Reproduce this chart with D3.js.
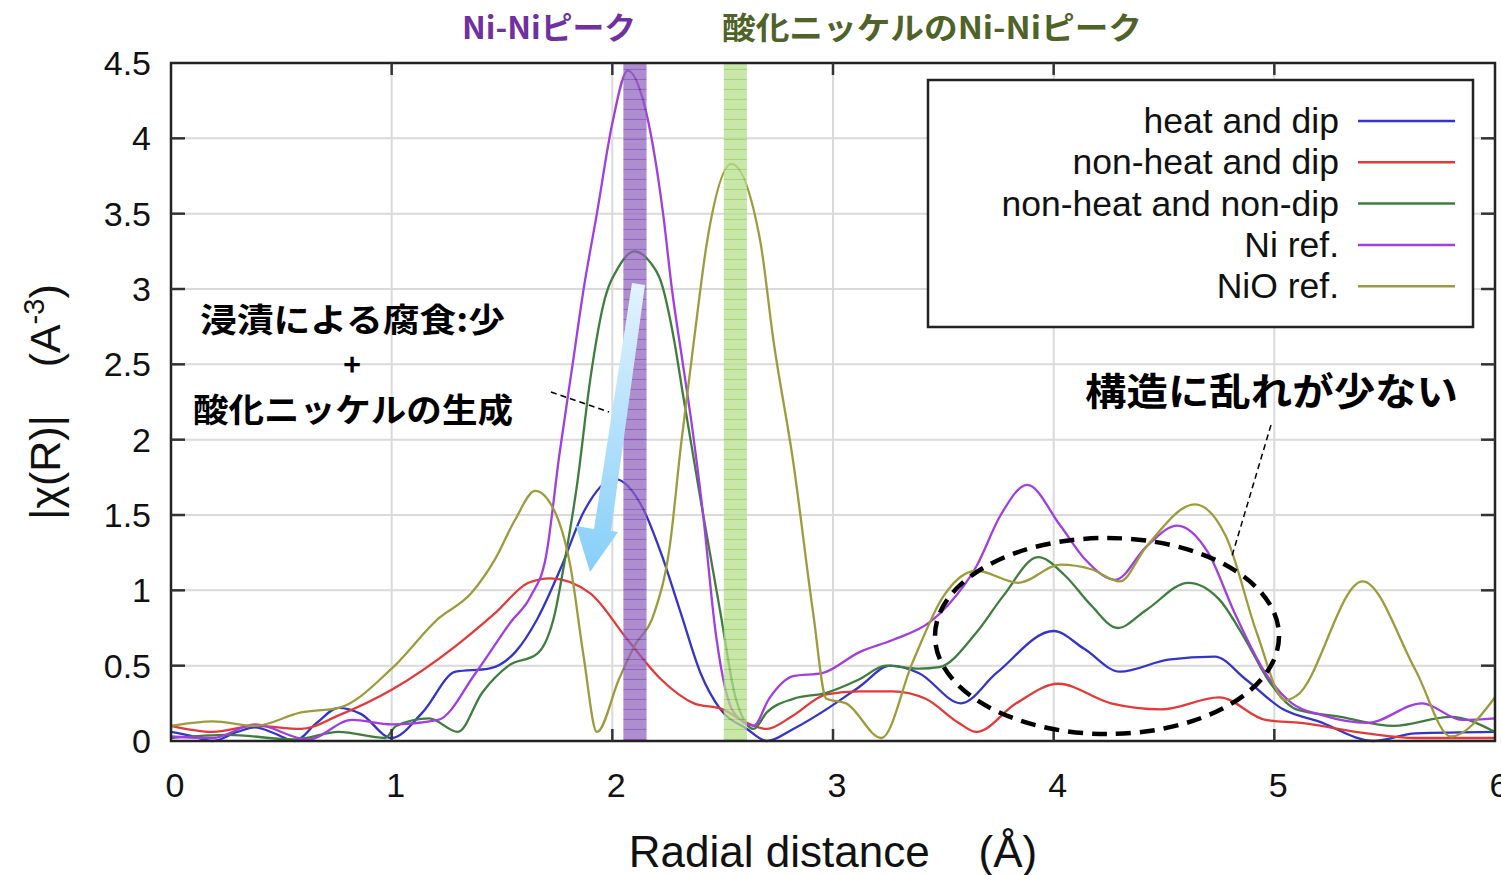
<!DOCTYPE html>
<html>
<head>
<meta charset="utf-8">
<script src="https://cdn.jsdelivr.net/npm/d3@7"></script>
<style>
  body { margin: 0; background: #fff; }
  svg { display: block; }
  text { white-space: pre; }
</style>
</head>
<body>
<div id="chart"></div>
<script>
// values, as [R, |chi(R)|]
const heatDip = [
    [0, 0.06], [0.1, 0.03], [0.19, 0.0], [0.3, 0.06], [0.38, 0.09], [0.47, 0.05], [0.56, 0.0],
    [0.66, 0.12], [0.76, 0.22], [0.86, 0.18], [1.0, 0.02], [1.14, 0.19], [1.29, 0.46], [1.44, 0.48],
    [1.56, 0.59], [1.66, 0.81], [1.77, 1.16], [1.87, 1.52], [2.01, 1.74], [2.14, 1.54], [2.22, 1.25],
    [2.31, 0.85], [2.40, 0.45], [2.49, 0.21], [2.61, 0.08], [2.70, 0.0], [2.82, 0.08], [2.97, 0.21],
    [3.12, 0.36], [3.26, 0.50], [3.39, 0.45], [3.58, 0.25], [3.74, 0.45], [4.0, 0.73], [4.14, 0.61],
    [4.30, 0.46], [4.52, 0.54], [4.73, 0.56], [4.87, 0.41], [5.04, 0.21], [5.2, 0.13], [5.45, 0.0],
    [5.64, 0.05], [6.0, 0.06]
];
const nonHeatDip = [
    [0, 0.10], [0.19, 0.06], [0.38, 0.10], [0.59, 0.08], [0.76, 0.17], [1.0, 0.34], [1.29, 0.63],
    [1.47, 0.85], [1.62, 1.05], [1.72, 1.08], [1.90, 0.98], [2.07, 0.67], [2.22, 0.41], [2.37, 0.25],
    [2.50, 0.21], [2.61, 0.12], [2.70, 0.08], [2.82, 0.17], [2.97, 0.31], [3.12, 0.33], [3.27, 0.33],
    [3.42, 0.28], [3.57, 0.12], [3.65, 0.06], [3.83, 0.25], [4.02, 0.38], [4.26, 0.25], [4.49, 0.21],
    [4.75, 0.29], [4.96, 0.14], [5.12, 0.12], [5.42, 0.05], [5.64, 0.02], [6.0, 0.02]
];
const nonHeatNonDip = [
    [0, 0.02], [0.26, 0.04], [0.56, 0.01], [0.76, 0.06], [0.97, 0.02], [1.02, 0.10], [1.17, 0.15],
    [1.30, 0.06], [1.41, 0.32], [1.53, 0.50], [1.66, 0.58], [1.74, 0.85], [1.78, 1.16], [1.84, 1.70],
    [1.90, 2.40], [1.96, 2.90], [2.03, 3.15], [2.10, 3.25], [2.17, 3.18], [2.22, 3.05], [2.28, 2.66],
    [2.32, 2.30], [2.40, 1.60], [2.49, 0.85], [2.56, 0.28], [2.64, 0.08], [2.70, 0.19], [2.82, 0.28],
    [2.97, 0.32], [3.12, 0.41], [3.24, 0.50], [3.39, 0.48], [3.48, 0.49], [3.65, 0.72], [3.77, 0.96],
    [3.93, 1.22], [4.05, 1.10], [4.17, 0.90], [4.29, 0.75], [4.42, 0.87], [4.61, 1.05], [4.75, 0.94],
    [4.87, 0.67], [4.97, 0.41], [5.10, 0.21], [5.3, 0.16], [5.54, 0.10], [5.80, 0.16], [6.0, 0.06]
];
const niRef = [
    [0, 0.03], [0.19, 0.02], [0.38, 0.11], [0.62, 0.01], [0.82, 0.14], [1.0, 0.11], [1.21, 0.14],
    [1.38, 0.45], [1.54, 0.79], [1.63, 0.96], [1.70, 1.23], [1.76, 1.9], [1.82, 2.5], [1.87, 3.0],
    [1.93, 3.5], [2.0, 4.1], [2.07, 4.45], [2.14, 4.25], [2.23, 3.5], [2.27, 3.0], [2.32, 2.5],
    [2.36, 2.1], [2.41, 1.52], [2.47, 0.70], [2.55, 0.19], [2.64, 0.10], [2.71, 0.28], [2.82, 0.43],
    [2.95, 0.45], [3.12, 0.59], [3.27, 0.67], [3.44, 0.79], [3.52, 0.9], [3.65, 1.16], [3.76, 1.5],
    [3.88, 1.70], [4.03, 1.43], [4.14, 1.21], [4.28, 1.07], [4.42, 1.29], [4.56, 1.43], [4.70, 1.25],
    [4.82, 0.85], [4.96, 0.45], [5.08, 0.25], [5.22, 0.17], [5.42, 0.12], [5.67, 0.25], [5.85, 0.14],
    [6.0, 0.15]
];
const nioRef = [
    [0, 0.10], [0.19, 0.13], [0.38, 0.10], [0.59, 0.19], [0.76, 0.22], [1.0, 0.48], [1.21, 0.81],
    [1.36, 0.98], [1.47, 1.21], [1.56, 1.47], [1.65, 1.66], [1.74, 1.52], [1.81, 1.16], [1.87, 0.56],
    [1.93, 0.06], [2.03, 0.41], [2.10, 0.63], [2.19, 0.85], [2.26, 1.29], [2.31, 1.95], [2.37, 2.66],
    [2.43, 3.32], [2.54, 3.83], [2.67, 3.32], [2.73, 2.66], [2.82, 1.85], [2.91, 0.85], [2.97, 0.28],
    [3.06, 0.25], [3.22, 0.02], [3.36, 0.52], [3.50, 0.96], [3.65, 1.13], [3.84, 1.05], [4.03, 1.17],
    [4.17, 1.14], [4.30, 1.06], [4.42, 1.29], [4.64, 1.57], [4.78, 1.36], [4.92, 0.72], [5.05, 0.27],
    [5.10, 0.30], [5.40, 1.06], [5.64, 0.47], [5.80, 0.03], [6.0, 0.29]
];

const seriesNames = ['heat and dip', 'non-heat and dip', 'non-heat and non-dip', 'Ni ref.', 'NiO ref.'];
const seriesColors = ['#3434c8', '#e23a3a', '#3f7d3f', '#a03ee0', '#9c9c3c'];
const seriesData = [heatDip, nonHeatDip, nonHeatNonDip, niRef, nioRef];

const xTicks = [0, 1, 2, 3, 4, 5, 6];
const yTicks = [0, 0.5, 1, 1.5, 2, 2.5, 3, 3.5, 4, 4.5];
// highlighted R ranges
const niBand = [2.05, 2.155];
const nioBand = [2.505, 2.61];

const svg = d3.select('#chart')
    .append('svg')
    .attr('width', 1501)
    .attr('height', 875);

const x = d3.scaleLinear().domain([0, 6]).range([171, 1495]);
const y = d3.scaleLinear().domain([0, 4.5]).range([741, 63]);

const sans = 'Liberation Sans, Arial, sans-serif';
const jp = 'Noto Sans CJK JP, sans-serif';

// pattern fills for the two bands
const defs = svg.append('defs');
function stripePattern(id, base, line) {
    const p = defs.append('pattern')
        .attr('id', id)
        .attr('patternUnits', 'userSpaceOnUse')
        .attr('width', 8).attr('height', 10);
    p.append('rect').attr('width', 8).attr('height', 10).attr('fill', base);
    p.append('line').attr('x1', 0).attr('x2', 8).attr('y1', 9.5).attr('y2', 9.5)
        .attr('stroke', line).attr('stroke-width', 1.2);
}
stripePattern('niStripe', '#8f62bb', '#6a2aa8');
stripePattern('nioStripe', '#b8df8e', '#86c94e');

const grad = defs.append('linearGradient')
    .attr('id', 'arrowGrad')
    .attr('x1', 0).attr('y1', 0).attr('x2', 0).attr('y2', 1);
grad.append('stop').attr('offset', '0%').attr('stop-color', '#e3f2ff');
grad.append('stop').attr('offset', '100%').attr('stop-color', '#86cff8');

// grid
svg.append('g').selectAll('line')
    .data(xTicks.slice(1, -1))
    .join('line')
    .attr('x1', d => x(d)).attr('x2', d => x(d))
    .attr('y1', y(4.5)).attr('y2', y(0))
    .attr('stroke', '#dadada').attr('stroke-width', 2);
svg.append('g').selectAll('line')
    .data(yTicks.slice(1, -1))
    .join('line')
    .attr('x1', x(0)).attr('x2', x(6))
    .attr('y1', d => y(d)).attr('y2', d => y(d))
    .attr('stroke', '#dadada').attr('stroke-width', 2);

// legend box (drawn over the grid)
const legend = svg.append('g');
legend.append('rect')
    .attr('x', 928).attr('y', 80).attr('width', 545).attr('height', 247)
    .attr('fill', '#fff').attr('stroke', '#222').attr('stroke-width', 2.5);
seriesNames.forEach((name, i) => {
    const cy = 121 + i * 41.3;
    legend.append('text')
        .attr('x', 1339).attr('y', cy + 12)
        .attr('text-anchor', 'end')
        .attr('font-family', sans)
        .attr('font-size', 35.5)
        .attr('fill', '#111')
        .text(name);
    legend.append('line')
        .attr('x1', 1358).attr('x2', 1455)
        .attr('y1', cy).attr('y2', cy)
        .attr('stroke', seriesColors[i]).attr('stroke-width', 2.5);
});

// curves
const lineGen = d3.line()
    .x(d => x(d[0]))
    .y(d => y(d[1]))
    .curve(d3.curveMonotoneX);

svg.append('g').selectAll('path')
    .data(seriesData)
    .join('path')
    .attr('d', d => lineGen(d))
    .attr('fill', 'none')
    .attr('stroke', (d, i) => seriesColors[i])
    .attr('stroke-width', 2.3);

// bands over the curves
svg.append('rect')
    .attr('x', x(niBand[0])).attr('width', x(niBand[1]) - x(niBand[0]))
    .attr('y', y(4.5)).attr('height', y(0) - y(4.5))
    .attr('fill', 'url(#niStripe)').attr('opacity', 0.72);
svg.append('rect')
    .attr('x', x(nioBand[0])).attr('width', x(nioBand[1]) - x(nioBand[0]))
    .attr('y', y(4.5)).attr('height', y(0) - y(4.5))
    .attr('fill', 'url(#nioStripe)').attr('opacity', 0.75);

// frame and ticks
svg.append('rect')
    .attr('x', x(0)).attr('y', y(4.5))
    .attr('width', x(6) - x(0)).attr('height', y(0) - y(4.5))
    .attr('fill', 'none').attr('stroke', '#222').attr('stroke-width', 2.5);
const tk = svg.append('g').attr('stroke', '#333').attr('stroke-width', 2.5);
xTicks.slice(1, -1).forEach(t => {
    tk.append('line').attr('x1', x(t)).attr('x2', x(t)).attr('y1', y(0)).attr('y2', y(0) - 12);
    tk.append('line').attr('x1', x(t)).attr('x2', x(t)).attr('y1', y(4.5)).attr('y2', y(4.5) + 12);
});
yTicks.slice(1, -1).forEach(t => {
    tk.append('line').attr('x1', x(0)).attr('x2', x(0) + 14).attr('y1', y(t)).attr('y2', y(t));
    tk.append('line').attr('x1', x(6)).attr('x2', x(6) - 14).attr('y1', y(t)).attr('y2', y(t));
});

// tick labels
svg.append('g').selectAll('text')
    .data(yTicks)
    .join('text')
    .attr('x', 151).attr('y', d => y(d) + 12)
    .attr('text-anchor', 'end')
    .attr('font-family', sans)
    .attr('font-size', 34)
    .attr('fill', '#111')
    .text(d => d3.format('~g')(d));
svg.append('g').selectAll('text')
    .data(xTicks)
    .join('text')
    .attr('x', d => x(d) + 4).attr('y', 797)
    .attr('text-anchor', 'middle')
    .attr('font-family', sans)
    .attr('font-size', 34)
    .attr('fill', '#111')
    .text(d => d);

// axis titles
svg.append('text')
    .attr('x', 833).attr('y', 867)
    .attr('text-anchor', 'middle')
    .attr('font-family', sans)
    .attr('font-size', 44)
    .attr('fill', '#111')
    .text('Radial distance    (Å)');
const yTitle = svg.append('text')
    .attr('transform', 'translate(60,402) rotate(-90)')
    .attr('text-anchor', 'middle')
    .attr('font-family', sans)
    .attr('font-size', 43)
    .attr('fill', '#111');
yTitle.append('tspan').text('|χ(R)|    (A');
yTitle.append('tspan').attr('dy', -16).attr('font-size', 29).text('-3');
yTitle.append('tspan').attr('dy', 16).text(')');

// peak labels on top
svg.append('text')
    .attr('x', 549).attr('y', 39)
    .attr('text-anchor', 'middle')
    .attr('font-family', jp).attr('font-weight', 700).attr('font-size', 31)
    .attr('fill', '#7030a0')
    .attr('textLength', 174).attr('lengthAdjust', 'spacingAndGlyphs')
    .text('Ni-Niピーク');
svg.append('text')
    .attr('x', 932).attr('y', 39)
    .attr('text-anchor', 'middle')
    .attr('font-family', jp).attr('font-weight', 700).attr('font-size', 31)
    .attr('fill', '#4f6228')
    .attr('textLength', 420).attr('lengthAdjust', 'spacingAndGlyphs')
    .text('酸化ニッケルのNi-Niピーク');

// left annotation
const note = svg.append('g')
    .attr('font-family', jp).attr('font-weight', 700).attr('fill', '#000');
note.append('text').attr('x', 200).attr('y', 332).attr('font-size', 33)
    .attr('textLength', 305).attr('lengthAdjust', 'spacingAndGlyphs')
    .text('浸漬による腐食:少');
note.append('text').attr('x', 352).attr('y', 376).attr('text-anchor', 'middle')
    .attr('font-size', 30).text('+');
note.append('text').attr('x', 193).attr('y', 422).attr('font-size', 33)
    .attr('textLength', 320).attr('lengthAdjust', 'spacingAndGlyphs')
    .text('酸化ニッケルの生成');
svg.append('line')
    .attr('x1', 551).attr('y1', 392).attr('x2', 609).attr('y2', 412)
    .attr('stroke', '#000').attr('stroke-width', 1.5).attr('stroke-dasharray', '6,4');

// blue arrow
svg.append('path')
    .attr('d', 'M632,283 L645,285 L611,531 L618,532 L590,572 L576,526 L594,529 Z')
    .attr('fill', 'url(#arrowGrad)');

// right annotation
svg.append('text')
    .attr('x', 1085).attr('y', 405)
    .attr('font-family', jp).attr('font-weight', 700).attr('font-size', 38)
    .attr('textLength', 373).attr('lengthAdjust', 'spacingAndGlyphs')
    .attr('fill', '#000')
    .text('構造に乱れが少ない');
svg.append('line')
    .attr('x1', 1271).attr('y1', 425).attr('x2', 1232).attr('y2', 556)
    .attr('stroke', '#000').attr('stroke-width', 1.5).attr('stroke-dasharray', '6,4');
svg.append('ellipse')
    .attr('cx', 1107).attr('cy', 636).attr('rx', 172).attr('ry', 98)
    .attr('fill', 'none').attr('stroke', '#000').attr('stroke-width', 4.5)
    .attr('stroke-dasharray', '15,9');
</script>
</body>
</html>
